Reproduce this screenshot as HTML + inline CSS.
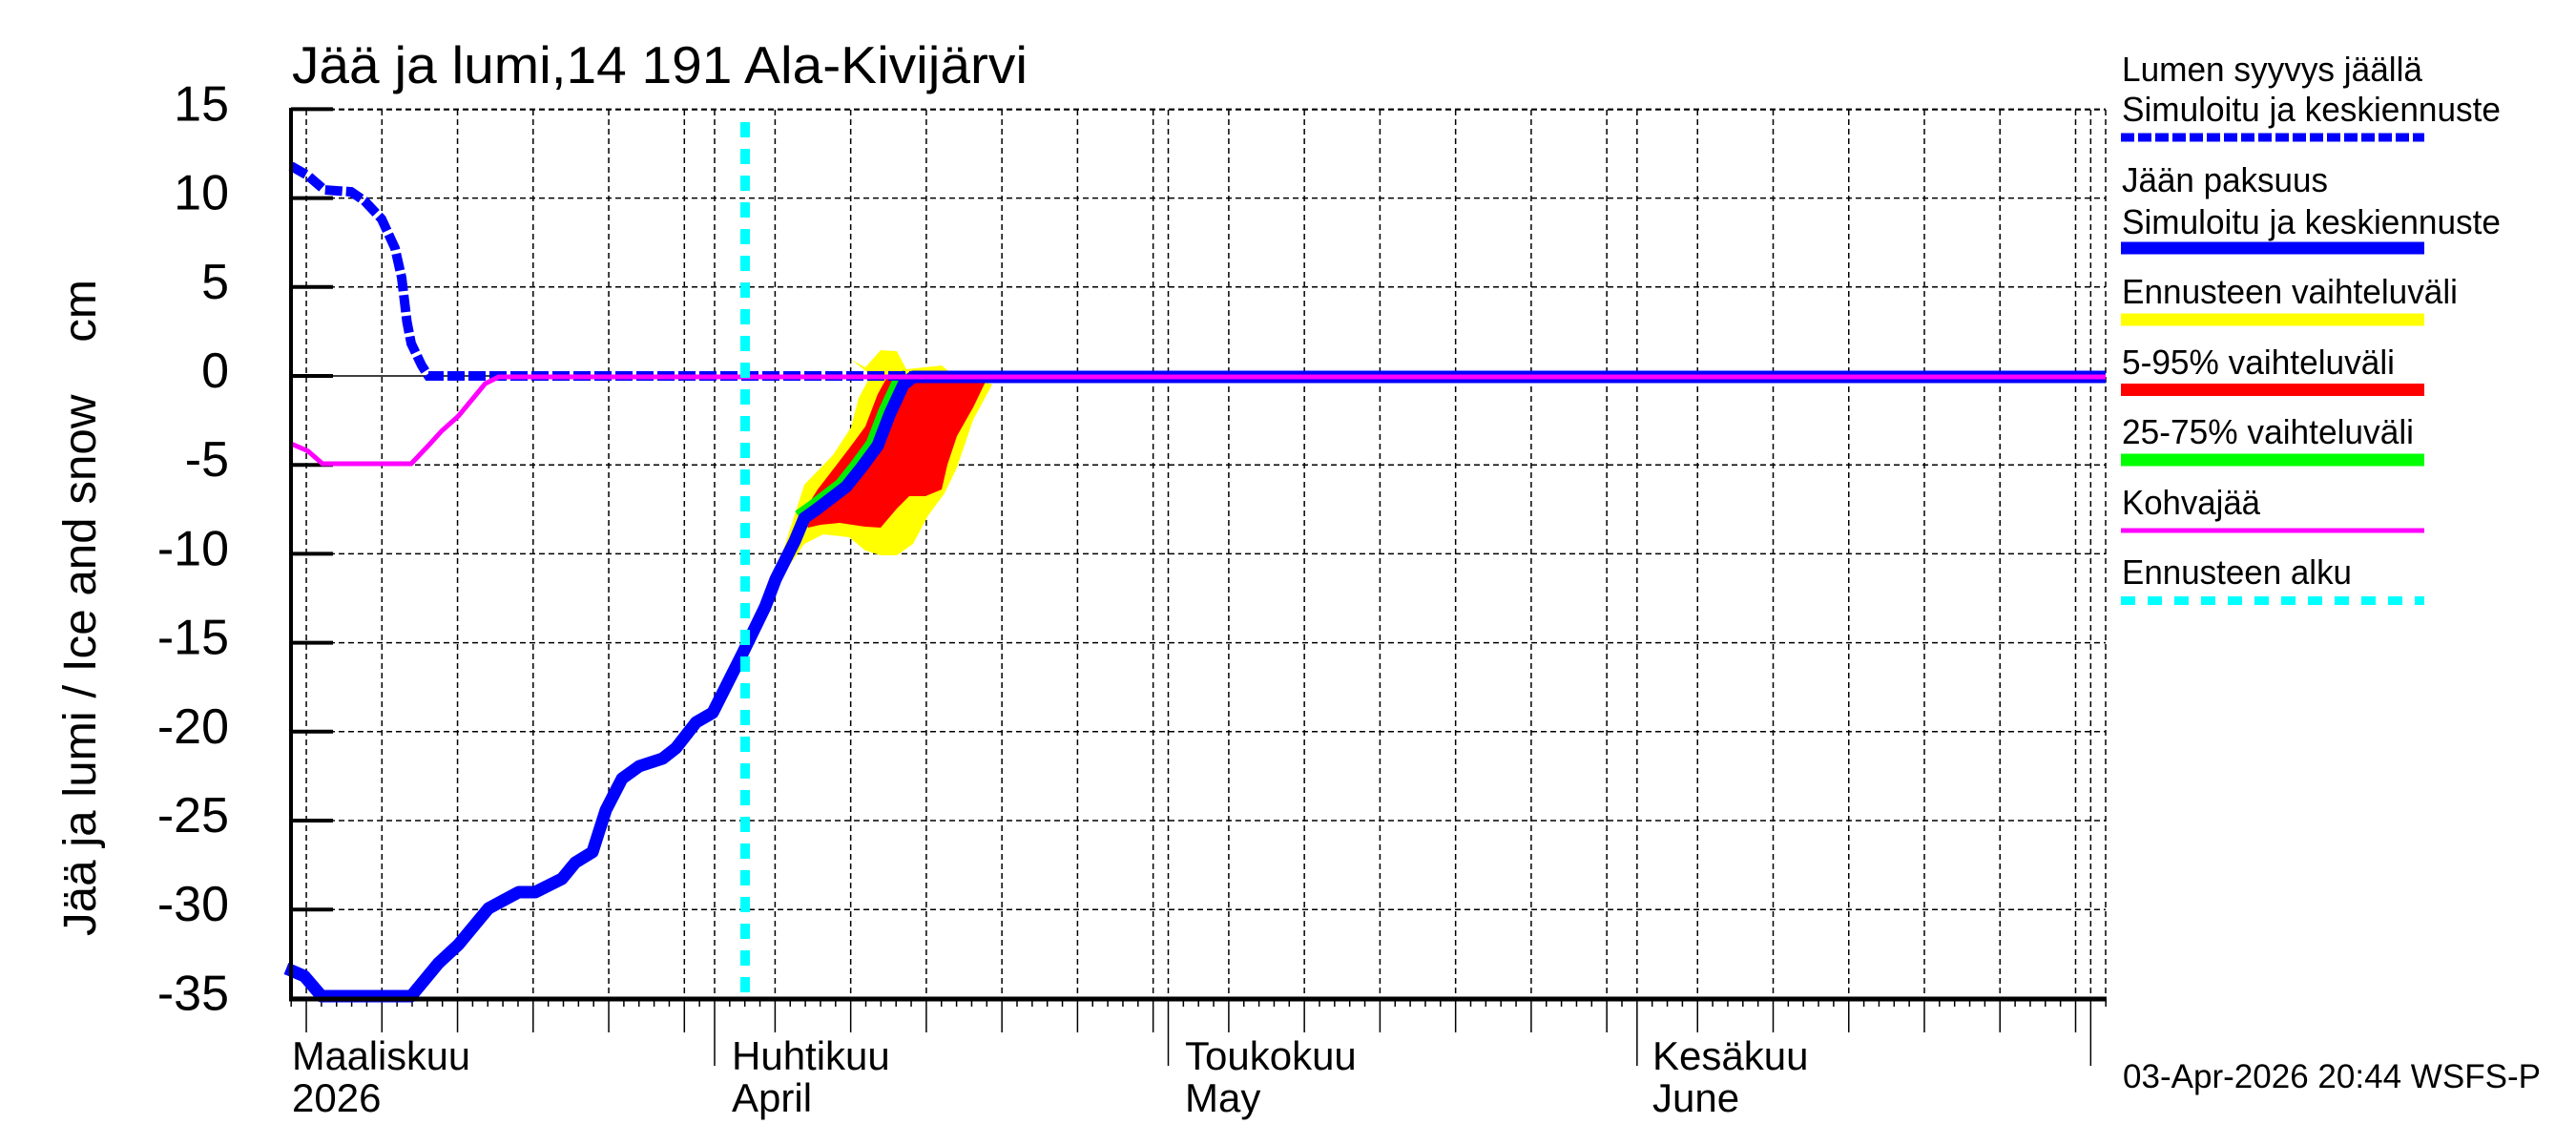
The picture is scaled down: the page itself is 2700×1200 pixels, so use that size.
<!DOCTYPE html>
<html><head><meta charset="utf-8"><style>
html,body{margin:0;padding:0;background:#fff;}
svg{display:block;}
text{font-family:"Liberation Sans",sans-serif;fill:#000;}
</style></head><body>
<svg id="s" xmlns="http://www.w3.org/2000/svg" width="2700" height="1200" viewBox="0 0 2700 1200">
<rect width="2700" height="1200" fill="#fff"/>
<g id="grid"></g>
<g id="ticks"></g>
<line x1="305" y1="394" x2="2207" y2="394" stroke="#000" stroke-width="1.5"/>
<polygon fill="#ffff00" points="820,580 843,508 873,477 892,448 900,417 913,393 892,377 907,385 923,367 940,368 950,387 987,383 993,388 1040,403 1020,440 1003,490 990,517 973,540 957,570 940,582 923,582 907,577 890,563 863,560 843,570 827,593"/>
<polygon fill="#ff0000" points="840,540 857,513 877,487 890,470 907,447 920,413 930,395 1033,400 1020,427 1003,457 993,487 987,513 970,520 953,520 940,533 923,553 907,552 880,548 860,550 847,553"/>
<polyline fill="none" stroke="#00ee00" stroke-width="13" stroke-linejoin="round" points="837,541 851,531 881,508 897,488 914,465 927,431 941,401 951,393"/>
<polyline fill="none" stroke="#0000ff" stroke-width="13" stroke-linejoin="round" points="300,1015 305,1017 319,1023 337,1044 431,1044 459.5,1009.5 480.5,990 512,952 543.7,935 561,935 589,921 603,904 621,893 635,849 652,816 670,803 694.5,795 708.5,784 729.6,757 747,747 778.7,684 802,636 813,607 833,567 843,543 857,533 887,510 903,490 920,467 933,433 947,403 957,395 2207,395"/>
<polyline fill="none" stroke="#0000ff" stroke-width="10" stroke-dasharray="18 4" points="305,174 322.7,184 340,199 368,201 382,210.5 400,229.6 414,260 421,291 426.5,337 431,360 442,383 449,394 2207,394"/>
<polyline fill="none" stroke="#ff00ff" stroke-width="5" points="305,465 322.7,472.6 338,486 431,486 449,467 463,451.6 480.5,436 508.6,402 522.6,395 2207,395"/>
<line x1="781" y1="128" x2="781" y2="1047" stroke="#00ffff" stroke-width="10" stroke-dasharray="16 12"/>
<line x1="305" y1="113" x2="305" y2="1049" stroke="#000" stroke-width="4"/>
<line x1="303" y1="1047" x2="2208" y2="1047" stroke="#000" stroke-width="5"/>
<g id="ylab" font-size="52" text-anchor="end"></g>
<text x="306" y="87" font-size="55" textLength="771" lengthAdjust="spacingAndGlyphs">Jää ja lumi,14 191 Ala-Kivijärvi</text>
<text transform="translate(100,981) rotate(-90)" font-size="48" textLength="688" lengthAdjust="spacingAndGlyphs">Jää ja lumi / Ice and snow&#160;&#160;&#160;&#160;cm</text>
<g font-size="42">
<text x="306" y="1121" textLength="187" lengthAdjust="spacingAndGlyphs">Maaliskuu</text>
<text x="306" y="1165">2026</text>
<text x="767" y="1121">Huhtikuu</text>
<text x="767" y="1165">April</text>
<text x="1242" y="1121">Toukokuu</text>
<text x="1242" y="1165">May</text>
<text x="1732" y="1121">Kesäkuu</text>
<text x="1732" y="1165">June</text>
</g>
<text x="2225" y="1140" font-size="35" textLength="438" lengthAdjust="spacingAndGlyphs">03-Apr-2026 20:44 WSFS-P</text>
<g font-size="36">
<text x="2224" y="85" textLength="315" lengthAdjust="spacingAndGlyphs">Lumen syyvys jäällä</text>
<text x="2224" y="127" textLength="397" lengthAdjust="spacingAndGlyphs">Simuloitu ja keskiennuste</text>
<line x1="2223" y1="144" x2="2541" y2="144" stroke="#0000ff" stroke-width="9" stroke-dasharray="14 4"/>
<text x="2224" y="201" textLength="216" lengthAdjust="spacingAndGlyphs">Jään paksuus</text>
<text x="2224" y="245" textLength="397" lengthAdjust="spacingAndGlyphs">Simuloitu ja keskiennuste</text>
<line x1="2223" y1="260" x2="2541" y2="260" stroke="#0000ff" stroke-width="13"/>
<text x="2224" y="318" textLength="352" lengthAdjust="spacingAndGlyphs">Ennusteen vaihteluväli</text>
<line x1="2223" y1="335" x2="2541" y2="335" stroke="#ffff00" stroke-width="13"/>
<text x="2224" y="392" textLength="286" lengthAdjust="spacingAndGlyphs">5-95% vaihteluväli</text>
<line x1="2223" y1="408.5" x2="2541" y2="408.5" stroke="#ff0000" stroke-width="13"/>
<text x="2224" y="465" textLength="306" lengthAdjust="spacingAndGlyphs">25-75% vaihteluväli</text>
<line x1="2223" y1="482" x2="2541" y2="482" stroke="#00ff00" stroke-width="13"/>
<text x="2224" y="539" textLength="145" lengthAdjust="spacingAndGlyphs">Kohvajää</text>
<line x1="2223" y1="556" x2="2541" y2="556" stroke="#ff00ff" stroke-width="5"/>
<text x="2224" y="612" textLength="241" lengthAdjust="spacingAndGlyphs">Ennusteen alku</text>
<line x1="2223" y1="629.5" x2="2541" y2="629.5" stroke="#00ffff" stroke-width="9" stroke-dasharray="15 13"/>
</g>
</svg>
<script>
(function(){
var NS="http://www.w3.org/2000/svg";
function el(p,n,a){var e=document.createElementNS(NS,n);for(var k in a)e.setAttribute(k,a[k]);p.appendChild(e);return e;}
var grid=document.getElementById('grid'),ticks=document.getElementById('ticks'),yl=document.getElementById('ylab');
var L=305,R=2207,T=115,B=1047;
function Y(v){return 394-v*18.64;}
for(var v=15;v>=-35;v-=5){
 var y=Y(v);
 if(v!==0&&v!==-35) el(grid,'line',{x1:L,y1:y,x2:R,y2:y,stroke:'#000','stroke-width':1.5,'stroke-dasharray':'6 4'});
 el(ticks,'line',{x1:L,y1:y,x2:349,y2:y,stroke:'#000','stroke-width':4});
 var t=el(yl,'text',{x:240,y:y+12});t.textContent=String(v);
}
var px=15.85,a1=749;
for(var d=-28;d<=92;d++){
 var x=a1+d*px; if(x<L-1||x>R+1) continue;
 var dom;
 if(d<0) dom=d+32; else if(d<30) dom=d+1; else if(d<61) dom=d-29; else if(d<91) dom=d-60; else dom=d-90;
 var len=8;
 if(dom===1){len=70; el(grid,'line',{x1:x,y1:T,x2:x,y2:B,stroke:'#000','stroke-width':1.5,'stroke-dasharray':'6 4'});}
 else if(dom%5===0){len=35; el(grid,'line',{x1:x,y1:T,x2:x,y2:B,stroke:'#000','stroke-width':1.5,'stroke-dasharray':'6 4'});}
 el(ticks,'line',{x1:x,y1:B,x2:x,y2:B+len,stroke:'#000','stroke-width':1.5});
}
el(grid,'line',{x1:R,y1:T,x2:R,y2:B,stroke:'#000','stroke-width':1.5,'stroke-dasharray':'6 4'});
el(grid,'line',{x1:L,y1:T,x2:R,y2:T,stroke:'#000','stroke-width':1.5,'stroke-dasharray':'6 4'});
})();
</script>
</body></html>
